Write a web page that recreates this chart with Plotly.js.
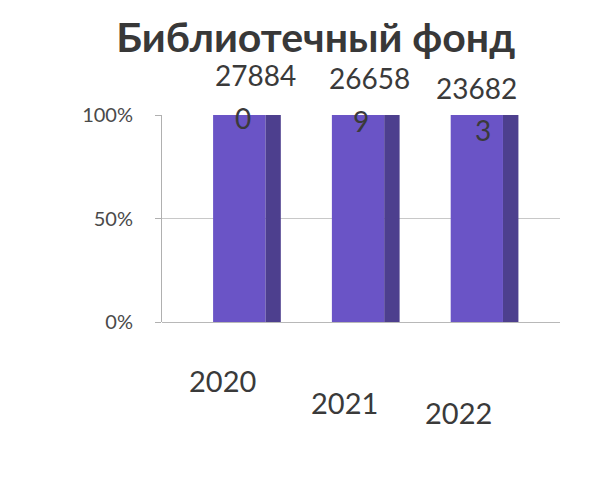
<!DOCTYPE html>
<html><head><meta charset="utf-8">
<script src="https://cdn.plot.ly/plotly-3.0.1.min.js"></script>
<style>html,body{margin:0;padding:0;background:#fff}</style>
</head><body><div id="chart" style="width:598px;height:479px"></div>
<script>
var years = ['2020', '2021', '2022'];
var fondValues = [278840, 266589, 236823];
var shareValues = [100, 100, 100];

var idx = years.map(function(_, i){ return i; });
var FONT = 'Lato, "Open Sans", sans-serif';

var front = {
  type: 'bar', x: idx, y: shareValues,
  width: 0.44, offset: -0.22,
  marker: {color: '#6a54c6', line: {width: 0}},
  hoverinfo: 'skip', showlegend: false
};
var side = {
  type: 'bar', x: idx, y: shareValues,
  width: 0.13, offset: 0.22,
  marker: {color: '#4d3f8e', line: {width: 0}},
  hoverinfo: 'skip', showlegend: false
};

var annotations = [];
idx.forEach(function(i){
  var s = String(fondValues[i]);
  var headShift = [40, 37, 27][i];
  var tailShift = [-3, -6, -15][i];
  annotations.push({x: i, y: 100, xref: 'x', yref: 'y', text: s.slice(0, 5),
    showarrow: false, yanchor: 'middle', yshift: headShift, xshift: [16, 11, 0][i],
    font: {family: FONT, size: 28, color: '#3a3a3a'}});
  annotations.push({x: i, y: 100, xref: 'x', yref: 'y', text: s.slice(5),
    showarrow: false, yanchor: 'middle', yshift: tailShift, xshift: [4, 3, 6][i],
    font: {family: FONT, size: 28, color: '#3a3a3a'}});
  annotations.push({x: i, y: 0, xref: 'x', yref: 'y', text: years[i],
    showarrow: false, yanchor: 'middle', yshift: [-58, -80, -90][i], xshift: [-17, -14, -18][i],
    font: {family: FONT, size: 29, color: '#3a3a3a'}});
});

var layout = {
  width: 598, height: 479,
  margin: {l: 162, r: 38, t: 115, b: 157},
  paper_bgcolor: '#ffffff', plot_bgcolor: '#ffffff',
  barmode: 'overlay',
  title: {text: '<b>Библиотечный фонд</b>', x: 0.528, xanchor: 'center', y: 0.952, yanchor: 'top',
    font: {family: FONT, size: 41, color: '#383838'}},
  xaxis: {range: [-0.65, 2.7], tickvals: idx, ticktext: years,
    showgrid: false, zeroline: false, showline: false, showticklabels: false, ticks: ''},
  yaxis: {range: [0, 100], tickvals: [0, 50, 100], ticktext: ['0%', '50%', '100%'],
    showgrid: true, gridcolor: '#c8c8c8', gridwidth: 1, zeroline: true, zerolinecolor: '#b8b8b8',
    showline: true, linecolor: '#b0b0b0', ticks: 'outside', ticklen: 6, tickcolor: '#b0b0b0',
    ticklabelstandoff: 18,
    tickfont: {family: FONT, size: 20, color: '#4a4a4a'}},
  annotations: annotations
};

Plotly.newPlot('chart', [side, front], layout, {displayModeBar: false, staticPlot: true});
</script></body></html>
